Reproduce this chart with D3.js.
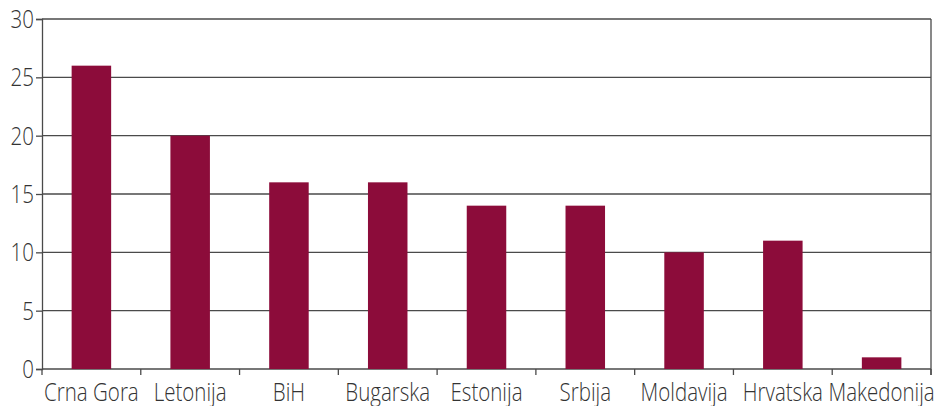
<!DOCTYPE html>
<html>
<head>
<meta charset="utf-8">
<script src="https://cdn.jsdelivr.net/npm/d3@7"></script>
<style>
  body { margin: 0; background: #fff; }
  text { font-family: "Open Sans", sans-serif; font-weight: 300; fill: #333; }
</style>
</head>
<body>
<div id="chart"></div>
<script>
var countries = ["Crna Gora", "Letonija", "BiH", "Bugarska", "Estonija", "Srbija", "Moldavija", "Hrvatska", "Makedonija"];
var values = [26, 20, 16, 16, 14, 14, 10, 11, 1];
var yTicks = [0, 5, 10, 15, 20, 25, 30];

var width = 948, height = 406;
var margin = { top: 19, right: 17, bottom: 37, left: 42 };
var w = width - margin.left - margin.right;
var h = height - margin.top - margin.bottom;
var squeeze = 0.82; // narrow the text a bit, the original font is condensed

var svg = d3.select("#chart").append("svg")
  .attr("width", width)
  .attr("height", height);

var g = svg.append("g")
  .attr("transform", "translate(" + margin.left + "," + margin.top + ")");

var x = d3.scaleBand().domain(countries).range([0, w]).paddingInner(0.6).paddingOuter(0.3);
var xb = d3.scaleBand().domain(countries).range([0, w]);
var y = d3.scaleLinear().domain([0, 30]).range([h, 0]);

var lineColour = "#4a4a4a";

// gridlines
g.append("g").selectAll("line")
  .data(yTicks)
  .enter().append("line")
  .attr("x1", 0).attr("x2", w)
  .attr("y1", function(d) { return y(d); })
  .attr("y2", function(d) { return y(d); })
  .attr("stroke", lineColour)
  .attr("stroke-width", 1.3);

// right border
g.append("line")
  .attr("x1", w).attr("x2", w)
  .attr("y1", 0).attr("y2", h + 6)
  .attr("stroke", lineColour).attr("stroke-width", 1.3);

// bars
g.append("g").selectAll("rect")
  .data(values)
  .enter().append("rect")
  .attr("x", function(d, i) { return x(countries[i]); })
  .attr("width", x.bandwidth())
  .attr("y", function(d) { return y(d); })
  .attr("height", function(d) { return h - y(d); })
  .attr("fill", "#8c0c3a");

// y axis (lines from d3, labels drawn below so they can be narrowed)
var yAxis = g.append("g")
  .call(d3.axisLeft(y).tickValues(yTicks).tickSize(6).tickFormat(""));
yAxis.select(".domain").attr("stroke", lineColour).attr("stroke-width", 1.3);
yAxis.selectAll(".tick line").attr("stroke", lineColour).attr("stroke-width", 1.3);

g.append("g").selectAll("text")
  .data(yTicks)
  .enter().append("text")
  .attr("transform", function(d) { return "translate(-8," + y(d) + ") scale(" + squeeze + ",1)"; })
  .attr("dy", "0.36em")
  .attr("text-anchor", "end")
  .style("font-size", "25px")
  .text(function(d) { return d; });

// x axis: ticks at category boundaries
var bounds = countries.map(function(c) { return xb(c); }).concat([w]);
g.append("g").selectAll("line")
  .data(bounds)
  .enter().append("line")
  .attr("x1", function(d) { return d; }).attr("x2", function(d) { return d; })
  .attr("y1", h).attr("y2", h + 6)
  .attr("stroke", lineColour).attr("stroke-width", 1.3);

g.append("g").selectAll("text")
  .data(countries)
  .enter().append("text")
  .attr("transform", function(d) {
    return "translate(" + (xb(d) + xb.bandwidth() / 2) + "," + (h + 32) + ") scale(" + squeeze + ",1)";
  })
  .attr("text-anchor", "middle")
  .style("font-size", "25px")
  .text(function(d) { return d; });
</script>
</body>
</html>
